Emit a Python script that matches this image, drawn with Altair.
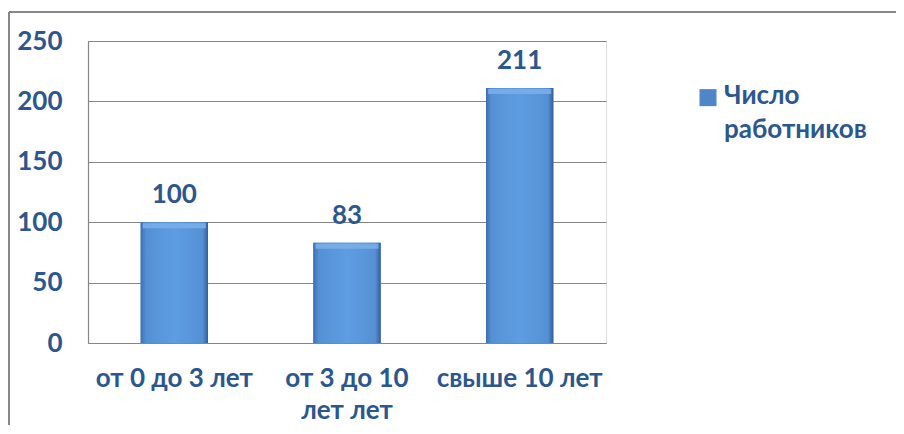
import json
import altair as alt
import pandas as pd

categories = ["от 0 до 3 лет", "от 3 до 10 лет лет", "свыше 10 лет"]
tick_lines = [["от 0 до 3 лет"], ["от 3 до 10", "лет лет"], ["свыше 10 лет"]]
values = [100, 83, 211]
series_name = "Число работников"
y_ticks = [0, 50, 100, 150, 200, 250]

df = pd.DataFrame({"cat": categories, "val": values, "series": [series_name] * 3})

TXT = "#2B578E"
FONT = "Lato"
FS = 26
GRID = "#868686"

label_expr = " : ".join(
    f"datum.value == {json.dumps(c)} ? {json.dumps(l)}" for c, l in zip(categories, tick_lines)
) + " : datum.label"

x_enc = alt.X(
    "cat:N",
    sort=categories,
    title=None,
    scale=alt.Scale(paddingInner=0.61, paddingOuter=0.305),
    axis=alt.Axis(
        labelAngle=0,
        labelExpr=label_expr,
        labelFont=FONT,
        labelFontSize=FS,
        labelFontWeight="bold",
        labelColor=TXT,
        labelPadding=22,
        labelLineHeight=32,
        labelLimit=300,
        ticks=False,
        domainColor=GRID,
        domainWidth=1.2,
        grid=False,
    ),
)
y_enc = alt.Y(
    "val:Q",
    title=None,
    scale=alt.Scale(domain=[0, 250], nice=False),
    axis=alt.Axis(
        values=y_ticks,
        labelFont=FONT,
        labelFontSize=FS,
        labelFontWeight="bold",
        labelColor=TXT,
        labelPadding=26,
        ticks=False,
        domainColor=GRID,
        domainWidth=1.2,
        gridColor=GRID,
        gridWidth=1.2,
    ),
)

gradient = {
    "gradient": "linear",
    "x1": 0, "y1": 0, "x2": 1, "y2": 0,
    "stops": [
        {"offset": 0, "color": "#3B6FB2"},
        {"offset": 0.08, "color": "#5590D4"},
        {"offset": 0.5, "color": "#5E9DE2"},
        {"offset": 0.92, "color": "#5590D4"},
        {"offset": 1, "color": "#325E9A"},
    ],
}

base = alt.Chart(df)

legend_bars = base.mark_bar().encode(
    x=x_enc,
    y=y_enc,
    color=alt.Color(
        "series:N",
        scale=alt.Scale(range=["#4F86C8"]),
        legend=alt.Legend(
            title=None,
            orient="none",
            legendX=607,
            legendY=50,
            symbolType="M-1,-1.75H1V0.25H-1Z",
            symbolSize=289,
            symbolStrokeWidth=0,
            labelFont=FONT,
            labelFontSize=FS,
            labelFontWeight="bold",
            labelColor=TXT,
            labelOffset=3,
            labelLimit=300,
            labelBaseline="alphabetic",
            labelExpr="split(datum.label, ' ')",
            padding=0,
        ),
    ),
)

grad_bars = base.mark_bar(fill=gradient).encode(x=x_enc, y=y_enc)

bevel = base.mark_tick(
    orient="horizontal", size=63, thickness=5, yOffset=3.5, color="#79AFE9", opacity=0.9
).encode(x=x_enc, y=y_enc)

labels = base.mark_text(
    dy=-19, baseline="alphabetic", font=FONT, fontSize=FS, fontWeight="bold", color=TXT
).encode(x=x_enc, y=y_enc, text="val:Q")

frame_left = base.mark_rule(color=GRID, strokeWidth=1.5).encode(
    x=alt.value(-79), y=alt.value(-29), y2=alt.value(400)
)
frame_top = base.mark_rule(color=GRID, strokeWidth=1.5).encode(
    x=alt.value(-79), x2=alt.value(820), y=alt.value(-29)
)

chart = (
    alt.layer(legend_bars, grad_bars, bevel, labels, frame_left, frame_top)
    .properties(
        width=518,
        height=302,
        padding={"left": 80, "top": 33, "right": 290, "bottom": 82},
        autosize=alt.AutoSizeParams(type="none"),
    )
    .configure_view(stroke=None)
    .configure(background="white", style={"guide-label": {"lineHeight": 34}})
)

chart.save("out.html", embed_options={"renderer": "svg", "actions": False})
